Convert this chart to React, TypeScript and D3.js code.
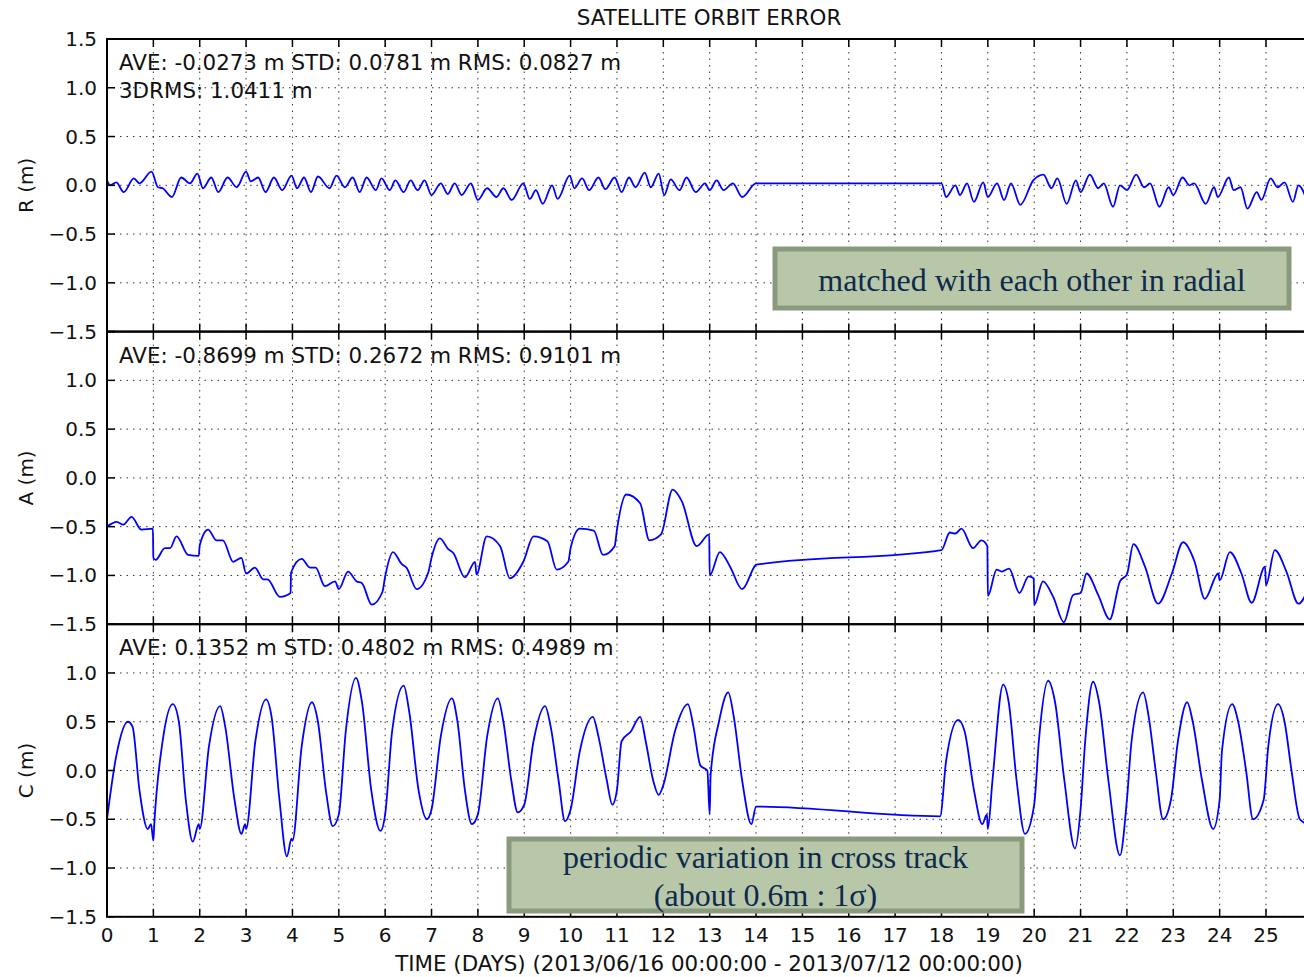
import React from "react";
import * as d3 from "d3";

const title = "SATELLITE ORBIT ERROR";
const xLabel = "TIME (DAYS) (2013/06/16 00:00:00 - 2013/07/12 00:00:00)";
const xTicks = [0, 1, 2, 3, 4, 5, 6, 7, 8, 9, 10, 11, 12, 13, 14, 15, 16, 17, 18, 19, 20, 21, 22, 23, 24, 25];
const yTicks = [-1.5, -1.0, -0.5, 0.0, 0.5, 1.0, 1.5];
const panelLabels = ["R (m)", "A (m)", "C (m)"];
const statsR = ["AVE: -0.0273 m STD: 0.0781 m RMS: 0.0827 m", "3DRMS: 1.0411 m"];
const statsA = ["AVE: -0.8699 m STD: 0.2672 m RMS: 0.9101 m"];
const statsC = ["AVE: 0.1352 m STD: 0.4802 m RMS: 0.4989 m"];
const note1 = ["matched with each other in radial"];
const note2 = ["periodic variation in cross track", "(about 0.6m : 1σ)"];

const radialPts: [number, number][] = [
  [0, 0.05], [0.07, 0.0], [0.2, 0.03], [0.36, -0.07], [0.58, 0.07], [0.7, 0.02], [0.96, 0.14], [1.1, -0.02], [1.2, -0.03], [1.4, -0.12],
  [1.6, 0.08], [1.79, 0.02], [1.95, 0.12], [2.07, -0.03], [2.25, 0.08], [2.4, -0.07], [2.6, 0.08], [2.8, -0.02], [3.0, 0.14], [3.1, 0.04],
  [3.26, 0.08], [3.42, -0.07], [3.6, 0.08], [3.78, -0.05], [3.98, 0.1], [4.1, -0.03], [4.25, 0.08], [4.4, -0.07], [4.55, 0.09], [4.8, -0.03],
  [4.95, 0.1], [5.13, -0.02], [5.3, 0.08], [5.45, -0.07], [5.6, 0.08], [5.8, -0.05], [5.92, 0.07], [6.1, -0.05], [6.22, 0.05], [6.4, -0.07],
  [6.55, 0.05], [6.7, -0.05], [6.85, 0.05], [7.0, -0.1], [7.2, 0.02], [7.35, -0.09], [7.5, 0.02], [7.65, -0.1], [7.85, 0.02], [8.0, -0.15],
  [8.2, -0.03], [8.4, -0.12], [8.55, -0.03], [8.73, -0.15], [8.98, 0.02], [9.12, -0.14], [9.25, -0.05], [9.4, -0.19], [9.6, 0.0], [9.72, -0.14],
  [9.98, 0.1], [10.08, -0.03], [10.25, 0.07], [10.4, -0.05], [10.6, 0.08], [10.75, -0.04], [10.95, 0.08], [11.1, -0.07], [11.26, 0.08], [11.4, -0.02],
  [11.6, 0.13], [11.73, -0.02], [11.9, 0.12], [12.02, -0.1], [12.16, 0.06], [12.35, -0.05], [12.5, 0.08], [12.7, -0.07], [12.9, 0.02], [13.0, -0.05],
  [13.15, 0.05], [13.3, -0.05], [13.5, 0.02], [13.7, -0.12], [14.0, 0.02], [18.0, 0.02], [18.1, -0.12], [18.3, 0.0], [18.4, -0.1], [18.55, 0.02],
  [18.7, -0.17], [18.9, 0.03], [19.0, -0.12], [19.2, 0.02], [19.35, -0.15], [19.5, 0.02], [19.7, -0.2], [19.98, 0.05], [20.2, 0.11], [20.37, -0.03],
  [20.5, 0.07], [20.7, -0.19], [20.9, 0.05], [21.0, -0.07], [21.2, 0.11], [21.38, -0.03], [21.5, 0.02], [21.7, -0.22], [21.85, 0.0], [22.0, -0.05],
  [22.2, 0.11], [22.37, -0.02], [22.5, 0.02], [22.7, -0.22], [22.9, -0.02], [23.0, -0.1], [23.2, 0.08], [23.35, 0.0], [23.45, 0.02], [23.7, -0.19],
  [23.88, -0.02], [23.96, -0.12], [24.2, 0.08], [24.3, -0.05], [24.45, -0.02], [24.6, -0.24], [24.8, -0.07], [24.9, -0.15], [25.1, 0.07], [25.25, -0.02],
  [25.4, 0.03], [25.58, -0.17], [25.7, 0.0], [25.9, -0.18],
];

const alongPts: [number, number][] = [
  [0, -0.5], [0.21, -0.45], [0.35, -0.48], [0.53, -0.4], [0.74, -0.53], [0.99, -0.52], [1.0, -0.82], [1.05, -0.84], [1.25, -0.72], [1.36, -0.72],
  [1.5, -0.6], [1.75, -0.79], [1.98, -0.8], [2.0, -0.69], [2.18, -0.53], [2.36, -0.64], [2.5, -0.64], [2.72, -0.86], [2.9, -0.82], [3.0, -0.98],
  [3.19, -0.92], [3.37, -1.04], [3.46, -1.04], [3.73, -1.22], [3.96, -1.18], [3.97, -0.97], [4.2, -0.83], [4.38, -0.92], [4.5, -0.92], [4.7, -1.11],
  [4.92, -1.06], [5.0, -1.14], [5.2, -0.96], [5.38, -1.06], [5.5, -1.08], [5.71, -1.3], [5.94, -1.17], [6.0, -1.01], [6.17, -0.76], [6.35, -0.88],
  [6.46, -0.92], [6.68, -1.14], [6.93, -0.97], [7.0, -0.82], [7.18, -0.62], [7.36, -0.73], [7.47, -0.77], [7.72, -1.02], [7.94, -0.86], [7.97, -0.99],
  [8.19, -0.6], [8.48, -0.7], [8.69, -1.03], [8.98, -0.86], [9.2, -0.6], [9.5, -0.65], [9.7, -0.94], [9.95, -0.86], [10.0, -0.72], [10.2, -0.52],
  [10.5, -0.54], [10.7, -0.79], [10.95, -0.7], [11.0, -0.53], [11.2, -0.17], [11.5, -0.26], [11.7, -0.64], [11.95, -0.58], [12.2, -0.12], [12.4, -0.24],
  [12.72, -0.7], [12.99, -0.58], [13.0, -1.0], [13.22, -0.76], [13.44, -0.91], [13.7, -1.14], [13.98, -0.9], [14.0, -0.89], [18.0, -0.74], [18.18, -0.56],
  [18.3, -0.57], [18.43, -0.52], [18.68, -0.72], [18.86, -0.64], [18.99, -0.7], [19.0, -1.21], [19.19, -0.94], [19.3, -0.96], [19.46, -0.93], [19.68, -1.18],
  [19.88, -1.01], [19.99, -1.03], [20.0, -1.3], [20.19, -1.06], [20.41, -1.22], [20.64, -1.48], [20.84, -1.2], [21.0, -1.18], [21.13, -0.98], [21.38, -1.2],
  [21.63, -1.45], [21.85, -1.06], [22.0, -0.99], [22.14, -0.68], [22.39, -0.91], [22.67, -1.29], [22.97, -0.98], [23.21, -0.66], [23.46, -0.86], [23.68, -1.24],
  [23.97, -0.98], [24.0, -1.05], [24.22, -0.76], [24.47, -0.98], [24.69, -1.28], [24.98, -0.91], [25.0, -1.1], [25.19, -0.74], [25.44, -0.96], [25.7, -1.29],
  [25.9, -1.15],
];

const crossPts: [number, number][] = [
  [0, -0.5], [0.2, 0.15], [0.45, 0.5], [0.55, 0.45], [0.7, -0.2], [0.88, -0.6], [0.95, -0.55], [1.0, -0.72], [1.02, -0.55], [1.2, 0.3],
  [1.42, 0.68], [1.55, 0.5], [1.7, -0.3], [1.85, -0.73], [1.98, -0.55], [2.0, -0.6], [2.2, 0.25], [2.44, 0.66], [2.55, 0.45], [2.75, -0.3],
  [2.9, -0.65], [2.98, -0.55], [3.0, -0.6], [3.2, 0.3], [3.43, 0.73], [3.55, 0.55], [3.72, -0.3], [3.88, -0.88], [3.98, -0.7], [4.0, -0.72],
  [4.2, 0.25], [4.42, 0.7], [4.55, 0.5], [4.72, -0.2], [4.87, -0.57], [5.0, -0.45], [5.15, 0.4], [5.37, 0.95], [5.5, 0.7], [5.7, -0.2],
  [5.9, -0.62], [6.0, -0.45], [6.15, 0.4], [6.4, 0.87], [6.52, 0.6], [6.72, -0.2], [6.9, -0.5], [7.0, -0.4], [7.2, 0.35], [7.44, 0.74],
  [7.56, 0.5], [7.72, -0.2], [7.87, -0.55], [8.0, -0.45], [8.2, 0.35], [8.43, 0.74], [8.55, 0.5], [8.72, -0.1], [8.86, -0.43], [9.0, -0.35],
  [9.2, 0.3], [9.45, 0.66], [9.57, 0.45], [9.74, -0.1], [9.88, -0.52], [10.0, -0.4], [10.2, 0.2], [10.48, 0.55], [10.6, 0.35], [10.78, -0.1],
  [10.9, -0.35], [11.0, -0.2], [11.1, 0.3], [11.3, 0.4], [11.5, 0.55], [11.62, 0.3], [11.78, -0.1], [11.9, -0.25], [12.0, -0.15], [12.25, 0.4],
  [12.53, 0.68], [12.65, 0.45], [12.8, 0.05], [12.95, 0.0], [13.0, -0.45], [13.02, -0.05], [13.2, 0.5], [13.4, 0.8], [13.52, 0.55], [13.7, -0.1],
  [13.9, -0.55], [14.0, -0.37], [17.97, -0.47], [18.1, 0.1], [18.36, 0.52], [18.5, 0.4], [18.7, -0.2], [18.88, -0.55], [18.98, -0.45], [19.0, -0.6],
  [19.1, -0.1], [19.33, 0.88], [19.45, 0.7], [19.62, -0.1], [19.8, -0.65], [20.0, -0.35], [20.1, 0.3], [20.3, 0.92], [20.45, 0.7], [20.65, -0.1],
  [20.88, -0.8], [21.0, -0.4], [21.1, 0.3], [21.27, 0.91], [21.4, 0.7], [21.6, -0.1], [21.85, -0.87], [22.0, -0.3], [22.1, 0.3], [22.35, 0.8],
  [22.47, 0.55], [22.62, 0.0], [22.78, -0.5], [22.95, -0.3], [23.1, 0.3], [23.3, 0.7], [23.42, 0.5], [23.62, -0.1], [23.86, -0.6], [24.0, -0.3],
  [24.05, 0.2], [24.27, 0.68], [24.4, 0.5], [24.57, 0.0], [24.72, -0.5], [24.95, -0.3], [25.05, 0.25], [25.26, 0.68], [25.4, 0.5], [25.55, 0.0],
  [25.73, -0.5], [25.9, -0.55],
];

const W = 1304;
const H = 977;
const LEFT = 107;
const DAY_PX = 46.36;
const PANEL_TOP = 39;
const PANEL_H = 292.6;
const SANS = "'DejaVu Sans', sans-serif";
const SERIF = "'Liberation Serif', 'Times New Roman', serif";
const BIG = 21.4;

const x = d3.scaleLinear().domain([0, 26]).range([LEFT, LEFT + 26 * DAY_PX]);
const fmtY = (v: number) => (v < 0 ? "\u2212" : "") + Math.abs(v).toFixed(1);

function Panel({ idx, pts, stats }: { idx: number; pts: [number, number][]; stats: string[] }) {
  const top = PANEL_TOP + idx * PANEL_H;
  const bottom = top + PANEL_H;
  const y = d3.scaleLinear().domain([-1.5, 1.5]).range([bottom, top]);
  const line = d3
    .line<[number, number]>()
    .x((d) => x(d[0]))
    .y((d) => y(d[1]))
    .curve(d3.curveMonotoneX);
  const right = x(26);
  const clipId = `clip${idx}`;
  // the top label of lower panels is hidden under the "−1.5" of the panel above
  const labelTicks = idx === 0 ? yTicks : yTicks.filter((v) => v < 1.5);
  return (
    <g>
      <defs>
        <clipPath id={clipId}>
          <rect x={LEFT} y={top} width={right - LEFT} height={PANEL_H} />
        </clipPath>
      </defs>
      {xTicks.map((t) => (
        <line key={`gx${t}`} x1={x(t)} x2={x(t)} y1={top} y2={bottom} stroke="#333" strokeWidth={1} strokeDasharray="1.5,5" />
      ))}
      {yTicks.map((v) => (
        <line key={`gy${v}`} x1={LEFT} x2={right} y1={y(v)} y2={y(v)} stroke="#333" strokeWidth={1} strokeDasharray="1.5,5" />
      ))}
      <path d={line(pts) || ""} fill="none" stroke="#0000ff" strokeWidth={1.8} strokeLinejoin="round" clipPath={`url(#${clipId})`} />
      {xTicks.map((t) => (
        <g key={`tx${t}`}>
          <line x1={x(t)} x2={x(t)} y1={top} y2={top + 8} stroke="#000" strokeWidth={1.5} />
          <line x1={x(t)} x2={x(t)} y1={bottom} y2={bottom - 8} stroke="#000" strokeWidth={1.5} />
        </g>
      ))}
      {yTicks.map((v) => (
        <line key={`ty${v}`} x1={LEFT} x2={LEFT + 8} y1={y(v)} y2={y(v)} stroke="#000" strokeWidth={1.5} />
      ))}
      <rect x={LEFT} y={top} width={right - LEFT} height={PANEL_H} fill="none" stroke="#000" strokeWidth={2} />
      {labelTicks.map((v) => (
        <text key={`yl${v}`} x={97} y={y(v) + 7} textAnchor="end" fontFamily={SANS} fontSize={20} fill="#111">
          {fmtY(v)}
        </text>
      ))}
      <text
        transform={`translate(33, ${(top + bottom) / 2}) rotate(-90)`}
        textAnchor="middle"
        fontFamily={SANS}
        fontSize={20}
        fill="#111"
      >
        {panelLabels[idx]}
      </text>
      {stats.map((s, i) => (
        <text key={`st${i}`} x={119} y={top + 31 + i * 28} fontFamily={SANS} fontSize={BIG} fill="#111">
          {s}
        </text>
      ))}
    </g>
  );
}

function NoteBox({ x0, y0, w, h, lines, baseline, gap }: { x0: number; y0: number; w: number; h: number; lines: string[]; baseline: number; gap: number }) {
  return (
    <g>
      <rect x={x0} y={y0} width={w} height={h} fill="#b9c7a9" stroke="#8a9a7c" strokeWidth={5} />
      {lines.map((s, i) => (
        <text key={i} x={x0 + w / 2} y={baseline + i * gap} textAnchor="middle" fontFamily={SERIF} fontSize={32} fill="#0e2a4c">
          {s}
        </text>
      ))}
    </g>
  );
}

export default function App() {
  const bottom = PANEL_TOP + 3 * PANEL_H;
  return (
    <svg
      width={W}
      height={H}
      viewBox={`0 0 ${W} ${H}`}
      style={{ position: "absolute", left: 0, top: 0, display: "block", background: "#fff" }}
    >
      <rect x={0} y={0} width={W} height={H} fill="#fff" />
      <text x={709} y={25} textAnchor="middle" fontFamily={SANS} fontSize={BIG} fill="#111">
        {title}
      </text>
      <Panel idx={0} pts={radialPts} stats={statsR} />
      <Panel idx={1} pts={alongPts} stats={statsA} />
      <Panel idx={2} pts={crossPts} stats={statsC} />
      {xTicks.map((t) => (
        <text key={`xl${t}`} x={x(t)} y={bottom + 25} textAnchor="middle" fontFamily={SANS} fontSize={20} fill="#111">
          {t}
        </text>
      ))}
      <text x={709} y={971} textAnchor="middle" fontFamily={SANS} fontSize={BIG} fill="#111">
        {xLabel}
      </text>
      <NoteBox x0={775} y0={249} w={514} h={59} lines={note1} baseline={291} gap={0} />
      <NoteBox x0={509} y0={839} w={513} h={72} lines={note2} baseline={868} gap={38} />
    </svg>
  );
}
